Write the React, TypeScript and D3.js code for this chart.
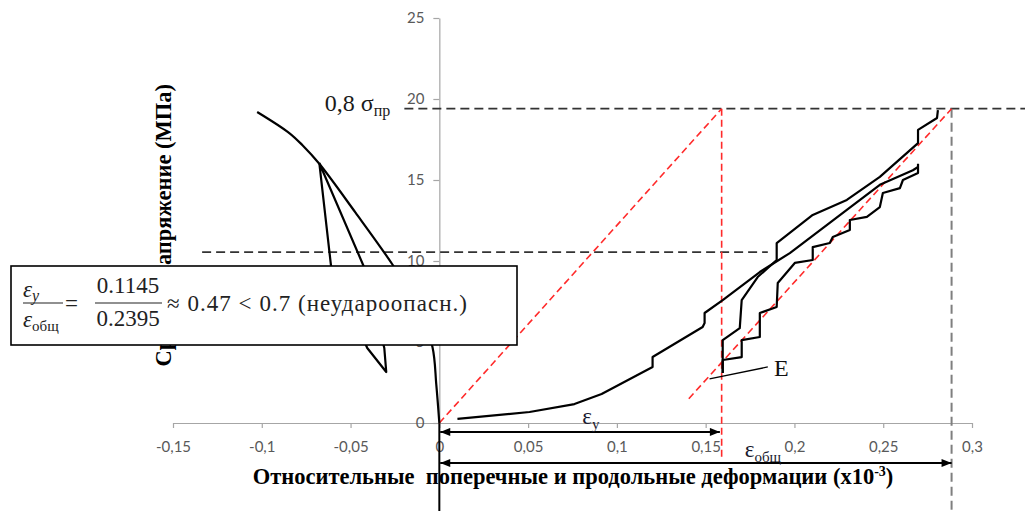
import React, { useEffect, useRef } from "react";
import * as d3 from "d3";

// axis ticks
const xTicks = [-0.15, -0.1, -0.05, 0, 0.05, 0.1, 0.15, 0.2, 0.25, 0.3];
const yTicks = [0, 5, 10, 15, 20, 25];

// поперечная деформация (отрицательная ветвь)
const transStrain = [-0.1026, -0.0845, -0.0772, -0.0676, -0.0473, -0.0265, -0.0124, -0.0039, -0.0017, 0];
const transStress = [19.2, 17.9, 17.16, 16.0, 13.0, 9.8, 7.3, 4.7, 2.35, 0];
// петля разгрузки / повторной нагрузки
const transLoopStrain = [-0.0676, -0.0609, -0.0406, -0.0299, -0.031, -0.0423, -0.0676];
const transLoopStress = [16.05, 9.6, 4.63, 3.15, 4.63, 9.6, 16.05];

// продольная деформация: первая нагрузка
const loadStrain = [0.0102, 0.0508, 0.0761, 0.0914, 0.1201, 0.1201, 0.1483, 0.1494, 0.1494, 0.1596, 0.1805, 0.1974, 0.2295, 0.2481, 0.2667, 0.2696];
const loadStress = [0.25, 0.68, 1.17, 1.79, 3.46, 4.07, 5.93, 6.17, 6.79, 7.59, 9.32, 10.49, 13.15, 14.7, 15.6, 15.8];
// разгрузка до точки E
const unloadStrain = [0.2696, 0.2696, 0.2611, 0.2594, 0.2498, 0.2481, 0.2408, 0.2312, 0.2312, 0.2216, 0.2199, 0.2103, 0.2103, 0.2002, 0.1906, 0.19, 0.1805, 0.1805, 0.1703, 0.1703, 0.1596, 0.1596];
const unloadStress = [16.0, 15.43, 15.0, 14.5, 14.2, 13.33, 12.72, 12.53, 11.91, 11.48, 11.11, 10.86, 10.06, 9.88, 8.64, 7.16, 6.79, 5.31, 5.12, 4.07, 3.89, 3.09];
// повторная нагрузка от E до 0,8 σпр
const reloadStrain = [0.1596, 0.1596, 0.1692, 0.1703, 0.1793, 0.19, 0.19, 0.2103, 0.2295, 0.2481, 0.2696, 0.2696, 0.2803, 0.2808];
const reloadStress = [3.09, 5.12, 5.86, 7.59, 9.01, 10.06, 11.11, 12.84, 13.77, 15.19, 17.28, 18.09, 18.83, 19.32];

// reference levels
const peakStress = 19.4; // 0,8 σпр
const midStress = 10.55;
const epsY = 0.159;
const epsTotal = 0.2885;
const eStart = [0.1405, 1.5];

export default function App() {
  const ref = useRef<SVGSVGElement>(null);
  const width = 1025;
  const height = 511;

  useEffect(() => {
    const svg = d3.select(ref.current);
    svg.selectAll("*").remove();

    const x = d3.scaleLinear().domain([-0.15, 0.3]).range([173, 972]);
    const y = d3.scaleLinear().domain([0, 25]).range([423, 18]);
    const bottom = y.invert(height);

    const defs = svg.append("defs");
    defs.append("marker")
      .attr("id", "arr")
      .attr("viewBox", "0 0 10 8")
      .attr("refX", 10).attr("refY", 4)
      .attr("markerWidth", 11).attr("markerHeight", 8)
      .attr("markerUnits", "userSpaceOnUse")
      .attr("orient", "auto-start-reverse")
      .append("path").attr("d", "M0,0 L10,4 L0,8 Z").attr("fill", "#000");

    // axes
    const gx = svg.append("g").attr("transform", `translate(0,${y(0)})`)
      .call(d3.axisBottom(x).tickValues(xTicks).tickSize(5).tickSizeOuter(0).tickPadding(13)
        .tickFormat((d) => String(d).replace(".", ",")));
    const gy = svg.append("g").attr("transform", `translate(${x(0)},0)`)
      .call(d3.axisLeft(y).tickValues(yTicks).tickSize(6).tickSizeOuter(0).tickPadding(9)
        .tickFormat((d) => String(d)));
    [gx, gy].forEach((g) => {
      g.select(".domain").attr("stroke", "#a6a6a6").attr("stroke-width", 1.2);
      g.selectAll(".tick line").attr("stroke", "#a6a6a6").attr("stroke-width", 1.2);
      g.selectAll(".tick text").attr("fill", "#595959").attr("font-family", "Lato, sans-serif").attr("font-size", 15);
    });

    const seg = (x1: number, y1: number, x2: number, y2: number) =>
      svg.append("line").attr("x1", x(x1)).attr("y1", y(y1)).attr("x2", x(x2)).attr("y2", y(y2));

    // dashed reference lines
    seg(-0.0197, peakStress, x.invert(width), peakStress).attr("stroke", "#333").attr("stroke-width", 1.8).attr("stroke-dasharray", "9,5");
    seg(-0.1336, midStress, 0.185, midStress).attr("stroke", "#333").attr("stroke-width", 1.8).attr("stroke-dasharray", "9,5");
    seg(epsTotal, peakStress, epsTotal, bottom).attr("stroke", "#7f7f7f").attr("stroke-width", 2).attr("stroke-dasharray", "9,5");
    seg(0, 0, 0, bottom).attr("stroke", "#000").attr("stroke-width", 2);

    const red = "#ff2a2a";
    seg(0, 0, epsY, peakStress).attr("stroke", red).attr("stroke-width", 1.6).attr("stroke-dasharray", "7,4");
    seg(epsY, peakStress, epsY, y.invert(460)).attr("stroke", red).attr("stroke-width", 1.6).attr("stroke-dasharray", "7,4");
    seg(eStart[0], eStart[1], epsTotal, peakStress).attr("stroke", red).attr("stroke-width", 1.6).attr("stroke-dasharray", "7,4");

    // curves
    const curve = (xs: number[], ys: number[], smooth = false) => {
      const line = d3.line<[number, number]>().x((d) => x(d[0])).y((d) => y(d[1]));
      if (smooth) line.curve(d3.curveCatmullRom);
      return svg.append("path")
        .attr("d", line(xs.map((v, i) => [v, ys[i]] as [number, number])))
        .attr("fill", "none").attr("stroke", "#000").attr("stroke-width", 2.2)
        .attr("stroke-linejoin", "round");
    };
    curve(transStrain, transStress, true);
    curve(transLoopStrain, transLoopStress);
    curve(loadStrain, loadStress);
    curve(unloadStrain, unloadStress);
    curve(reloadStrain, reloadStress);

    // strain arrows
    seg(0.0005, -0.55, epsY - 0.001, -0.55).attr("stroke", "#000").attr("stroke-width", 2)
      .attr("marker-start", "url(#arr)").attr("marker-end", "url(#arr)");
    seg(0.0005, -2.47, epsTotal, -2.47).attr("stroke", "#000").attr("stroke-width", 2)
      .attr("marker-start", "url(#arr)").attr("marker-end", "url(#arr)");

    const serif = "'Liberation Serif', 'Times New Roman', serif";
    const ey = svg.append("text").attr("x", x(0.0805)).attr("y", y(-0.05))
      .attr("font-family", serif).attr("font-size", 23).attr("fill", "#1a1a2e");
    ey.append("tspan").text("ε");
    ey.append("tspan").attr("font-size", 15).attr("dy", 5).text("у");

    const et = svg.append("text").attr("x", x(0.172)).attr("y", y(-2.1))
      .attr("font-family", serif).attr("font-size", 23).attr("fill", "#1a1a2e");
    et.append("tspan").text("ε");
    et.append("tspan").attr("font-size", 15).attr("dy", 5).text("общ");

    // point E
    seg(0.1522, 2.72, 0.185, 3.46).attr("stroke", "#000").attr("stroke-width", 1.3);
    svg.append("text").attr("x", x(0.1885)).attr("y", y(2.9))
      .attr("font-family", serif).attr("font-size", 24).attr("fill", "#111").text("E");

    // 0,8 σпр
    const sp = svg.append("text").attr("x", x(-0.0645)).attr("y", y(19.25))
      .attr("font-family", serif).attr("font-size", 24).attr("fill", "#1a1a1a");
    sp.append("tspan").text("0,8 σ");
    sp.append("tspan").attr("font-size", 16).attr("dy", 5).text("пр");

    // axis titles
    const xt = svg.append("text").attr("x", 573).attr("y", 484).attr("text-anchor", "middle")
      .attr("font-family", serif).attr("font-weight", "bold").attr("font-size", 22.5).attr("fill", "#000")
      .style("white-space", "pre");
    xt.append("tspan").text("Относительные  поперечные и продольные деформации (x10");
    xt.append("tspan").attr("font-size", 14).attr("dy", -8).text("-3");
    xt.append("tspan").attr("dy", 8).text(")");

    svg.append("text").attr("transform", "translate(171,84) rotate(-90)").attr("text-anchor", "end")
      .attr("font-family", serif).attr("font-weight", "bold").attr("font-size", 22.5).attr("fill", "#000")
      .text("Среднее напряжение (МПа)");

    // formula box
    const box = svg.append("g");
    box.append("rect").attr("x", 11).attr("y", 266).attr("width", 506).attr("height", 79)
      .attr("fill", "#fff").attr("stroke", "#000").attr("stroke-width", 1.6);
    const ft = (tx: number, ty: number) => box.append("text").attr("x", tx).attr("y", ty)
      .attr("font-family", serif).attr("font-size", 23).attr("fill", "#222");
    const n1 = ft(23, 297);
    n1.append("tspan").attr("font-style", "italic").text("ε");
    n1.append("tspan").attr("font-style", "italic").attr("font-size", 16).attr("dy", 4).text("y");
    const d1 = ft(23, 327);
    d1.append("tspan").attr("font-style", "italic").text("ε");
    d1.append("tspan").attr("font-size", 15).attr("dy", 4).text("общ");
    box.append("line").attr("x1", 23).attr("x2", 63).attr("y1", 303).attr("y2", 303).attr("stroke", "#222").attr("stroke-width", 1.2);
    ft(65, 311).text("=");
    ft(128, 293).attr("text-anchor", "middle").text("0.1145");
    ft(128, 326).attr("text-anchor", "middle").text("0.2395");
    box.append("line").attr("x1", 95).attr("x2", 162).attr("y1", 303).attr("y2", 303).attr("stroke", "#222").attr("stroke-width", 1.2);
    ft(167, 311).attr("textLength", 300).attr("lengthAdjust", "spacing").text("≈ 0.47 < 0.7 (неудароопасн.)");
  }, []);

  return (
    <svg
      ref={ref}
      width={width}
      height={height}
      style={{ position: "absolute", left: 0, top: 0, background: "#fff" }}
    />
  );
}
